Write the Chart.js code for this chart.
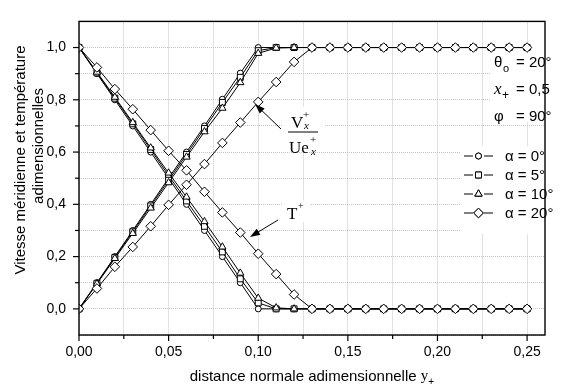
<!DOCTYPE html>
<html><head><meta charset="utf-8">
<script src="https://cdn.jsdelivr.net/npm/chart.js@4.4.0/dist/chart.umd.min.js"></script>
<style>html,body{margin:0;padding:0;background:#fff}</style>
</head><body>
<canvas id="c" width="576" height="387"></canvas>
<script>
// Distance normale adimensionnelle y+
const yPlus = [0.00,0.01,0.02,0.03,0.04,0.05,0.06,0.07,0.08,0.09,0.10,0.11,0.12,0.13,0.14,0.15,0.16,0.17,0.18,0.19,0.20,0.21,0.22,0.23,0.24,0.25];

// Vitesse méridienne Vx+/Uex+ pour chaque angle alpha
const vel0  = [0,0.100,0.200,0.300,0.400,0.500,0.600,0.700,0.802,0.902,1.000,1,1,1,1,1,1,1,1,1,1,1,1,1,1,1];
const vel5  = [0,0.098,0.197,0.295,0.394,0.492,0.591,0.690,0.790,0.886,0.988,1,1,1,1,1,1,1,1,1,1,1,1,1,1,1];
const vel10 = [0,0.096,0.193,0.289,0.386,0.483,0.581,0.678,0.768,0.866,0.978,0.998,1,1,1,1,1,1,1,1,1,1,1,1,1,1];
const vel20 = [0,0.078,0.161,0.237,0.316,0.398,0.475,0.554,0.635,0.713,0.792,0.868,0.945,1,1,1,1,1,1,1,1,1,1,1,1,1];

// Température T+ pour chaque angle alpha
const temp0  = [1,0.900,0.800,0.700,0.600,0.500,0.400,0.300,0.200,0.100,0.000,0,0,0,0,0,0,0,0,0,0,0,0,0,0,0];
const temp5  = [1,0.903,0.806,0.708,0.610,0.510,0.413,0.316,0.218,0.115,0.023,0,0,0,0,0,0,0,0,0,0,0,0,0,0,0];
const temp10 = [1,0.906,0.810,0.713,0.616,0.520,0.428,0.334,0.237,0.137,0.041,0.004,0,0,0,0,0,0,0,0,0,0,0,0,0,0];
const temp20 = [1,0.924,0.841,0.764,0.684,0.605,0.530,0.448,0.369,0.292,0.211,0.133,0.055,0,0,0,0,0,0,0,0,0,0,0,0,0];

const legendLabels = ['α = 0°','α = 5°','α = 10°','α = 20°'];
// graduations (majeures étiquetées, mineures sans texte)
const xTickValues = [0,0.025,0.05,0.075,0.10,0.125,0.15,0.175,0.20,0.225,0.25];
const xTickLabels = ['0,00','','0,05','','0,10','','0,15','','0,20','','0,25'];
const yTickValues = [-0.1,0,0.1,0.2,0.3,0.4,0.5,0.6,0.7,0.8,0.9,1.0,1.1];
const yTickLabels = ['','0,0','','0,2','','0,4','','0,6','','0,8','','1,0',''];

const styles = [
  {pointStyle:'circle', radius:3},
  {pointStyle:'rect', radius:4.2},
  {pointStyle:'triangle', radius:4.2},
  {pointStyle:'rectRot', radius:4.8}
];
const velSeries = [vel0, vel5, vel10, vel20];
const tempSeries = [temp0, temp5, temp10, temp20];

function pts(arr){ return yPlus.map((x,i)=>({x:x, y:arr[i]})); }
function ds(label, arr, st){
  return {label, data:pts(arr), borderColor:'#000', borderWidth:1, backgroundColor:'#fff',
    pointStyle:st.pointStyle, pointRadius:st.radius, pointBorderWidth:1, pointBackgroundColor:'#fff',
    pointBorderColor:'#000', showLine:true, tension:0, fill:false};
}
const datasets = [];
for (let k=3;k>=0;k--){
  datasets.push(ds('V '+legendLabels[k], velSeries[k], styles[k]));
  datasets.push(ds('T '+legendLabels[k], tempSeries[k], styles[k]));
}

const SANS = '"Liberation Sans", Arial, sans-serif';
const SERIF = '"Liberation Serif", "Times New Roman", serif';

// White panels behind the annotations (gridlines are hidden there)
const panels = [
  [460,146,85,88],   // légende
  [490,42,55,80],    // paramètres
  [283,107,41,43],   // Vx+/Uex+
  [283,200,27,22]    // T+
];

function arrow(ctx, x1,y1,x2,y2){
  const a = Math.atan2(y2-y1, x2-x1), L=10, W=3.5;
  ctx.beginPath(); ctx.moveTo(x1,y1); ctx.lineTo(x2-Math.cos(a)*L*0.8, y2-Math.sin(a)*L*0.8); ctx.stroke();
  ctx.beginPath();
  ctx.moveTo(x2,y2);
  ctx.lineTo(x2-Math.cos(a)*L - Math.sin(a)*W, y2-Math.sin(a)*L + Math.cos(a)*W);
  ctx.lineTo(x2-Math.cos(a)*L + Math.sin(a)*W, y2-Math.sin(a)*L - Math.cos(a)*W);
  ctx.closePath(); ctx.fill();
}

function marker(ctx, st, x, y){
  Chart.helpers.drawPoint(ctx, {pointStyle:st.pointStyle, radius:st.radius, borderWidth:1}, x, y);
  ctx.fill(); ctx.stroke();
}

const decor = {
  id:'decor',
  beforeDatasetsDraw(chart){
    const ctx = chart.ctx;
    ctx.save(); ctx.fillStyle='#fff';
    panels.forEach(p=>ctx.fillRect(p[0],p[1],p[2],p[3]));
    ctx.restore();
  },
  afterDatasetsDraw(chart){
    const ctx = chart.ctx, a = chart.chartArea;
    const xs = chart.scales.x, ys = chart.scales.y;
    ctx.save();
    // cadre
    ctx.strokeStyle='#000'; ctx.lineWidth=1.4;
    ctx.strokeRect(a.left, a.top, a.right-a.left, a.bottom-a.top);
    // graduations
    ctx.lineWidth=1.2;
    xTickValues.forEach((v,i)=>{
      const major = xTickLabels[i] !== '';
      const px = xs.getPixelForValue(v);
      ctx.beginPath(); ctx.moveTo(px, a.bottom); ctx.lineTo(px, a.bottom + (major?6:4)); ctx.stroke();
    });
    yTickValues.forEach((v,i)=>{
      if (v < 0 || v > 1.05) return;
      const major = yTickLabels[i] !== '';
      const py = ys.getPixelForValue(v);
      ctx.beginPath(); ctx.moveTo(a.left, py); ctx.lineTo(a.left - (major?6:4), py); ctx.stroke();
    });

    ctx.fillStyle='#000'; ctx.strokeStyle='#000';
    // titres des axes
    ctx.textBaseline='middle'; ctx.textAlign='center';
    ctx.font='15px '+SANS;
    const xt = 'distance normale adimensionnelle ';
    const wT = ctx.measureText(xt).width;
    ctx.font='15px '+SERIF; const wy = ctx.measureText('y').width;
    const cx = (a.left+a.right)/2, x0 = cx - (wT+wy+6)/2;
    ctx.textAlign='left';
    ctx.font='15px '+SANS; ctx.fillText(xt, x0, 377);
    ctx.font='15px '+SERIF; ctx.fillText('y', x0+wT, 376);
    ctx.font='10px '+SANS; ctx.fillText('+', x0+wT+wy, 382);

    ctx.save();
    ctx.translate(21,160); ctx.rotate(-Math.PI/2);
    ctx.textAlign='center'; ctx.font='15px '+SANS;
    ctx.fillText('Vitesse méridienne et température', 0, 0);
    ctx.restore();
    ctx.save();
    ctx.translate(39,146); ctx.rotate(-Math.PI/2);
    ctx.textAlign='center'; ctx.font='15px '+SANS;
    ctx.fillText('adimensionnelles', 0, 0);
    ctx.restore();

    // paramètres
    ctx.textBaseline='alphabetic'; ctx.textAlign='left';
    ctx.font='15px '+SANS;
    ctx.fillText('θ', 494, 67);
    ctx.font='11px '+SANS; ctx.fillText('o', 503, 72);
    ctx.font='15px '+SANS; ctx.fillText('= 20°', 516, 67);
    ctx.font='italic 17px '+SERIF; ctx.fillText('x', 494, 94);
    ctx.font='12px '+SANS; ctx.fillText('+', 502, 99);
    ctx.font='15px '+SANS; ctx.fillText('= 0,5', 516, 94);
    ctx.fillText('φ', 494, 121);
    ctx.fillText('= 90°', 516, 121);

    // légende
    ctx.lineWidth=1;
    const rows=[156,175,194,213];
    rows.forEach((ry,k)=>{
      ctx.beginPath(); ctx.moveTo(464,ry); ctx.lineTo(473,ry); ctx.moveTo(484,ry); ctx.lineTo(493,ry); ctx.stroke();
      ctx.fillStyle='#fff'; marker(ctx, styles[k], 478.5, ry);
      ctx.fillStyle='#000';
      ctx.font='15px '+SANS; ctx.textBaseline='middle';
      ctx.fillText(legendLabels[k], 505, ry+1);
    });

    // étiquette Vx+/Uex+
    ctx.textBaseline='alphabetic';
    ctx.font='17px '+SERIF; ctx.fillText('V', 291, 128);
    ctx.font='11px '+SERIF; ctx.fillText('+', 303, 118);
    ctx.font='italic 11px '+SERIF; ctx.fillText('x', 304, 129);
    ctx.lineWidth=1; ctx.beginPath(); ctx.moveTo(288,132); ctx.lineTo(318,132); ctx.stroke();
    ctx.font='17px '+SERIF; ctx.fillText('Ue', 289, 153);
    ctx.font='11px '+SERIF; ctx.fillText('+', 310, 143);
    ctx.font='italic 11px '+SERIF; ctx.fillText('x', 311, 155);
    // étiquette T+
    ctx.font='17px '+SERIF; ctx.fillText('T', 287, 219);
    ctx.font='10px '+SERIF; ctx.fillText('+', 298, 209);

    // flèches
    ctx.lineWidth=1;
    arrow(ctx, 281,129, 255,104);
    arrow(ctx, 278,220, 250,237);
    ctx.restore();
  }
};

Chart.defaults.font.family = SANS;
Chart.defaults.font.size = 14;
Chart.defaults.color = '#000';

new Chart(document.getElementById('c'), {
  type:'scatter',
  data:{datasets},
  plugins:[decor],
  options:{
    responsive:false, animation:false, devicePixelRatio:1,
    layout:{padding:{top:8, right:31, left:0, bottom:0}},
    plugins:{legend:{display:false}, tooltip:{enabled:false}},
    scales:{
      x:{
        type:'linear', min:0, max:0.26,
        afterFit(s){ s.height = 52; },
        afterBuildTicks(s){ s.ticks = xTickValues.map(v=>({value:v})); },
        grid:{color:'#c4c4c4', lineWidth:1, drawTicks:false},
        border:{display:false, dash:[1,1]},
        ticks:{autoSkip:false, maxRotation:0, padding:9,
          callback(v, i){ return xTickLabels[i]; }}
      },
      y:{
        type:'linear', min:-0.1, max:1.1,
        afterFit(s){ s.width = 79; },
        afterBuildTicks(s){ s.ticks = yTickValues.map(v=>({value:v})); },
        grid:{color:'#c4c4c4', lineWidth:1, drawTicks:false},
        border:{display:false, dash:[1,1]},
        ticks:{autoSkip:false, padding:13,
          callback(v, i){ return yTickLabels[i]; }}
      }
    }
  }
});
</script>
</body></html>
